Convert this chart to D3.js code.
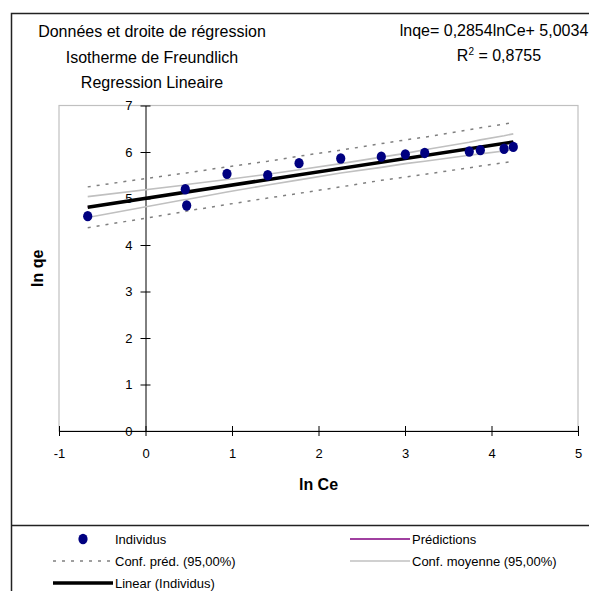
<!DOCTYPE html>
<html>
<head>
<meta charset="utf-8">
<script src="https://cdn.jsdelivr.net/npm/d3@7"></script>
<style>
  body { margin: 0; background: #fff; }
  svg { display: block; font-family: "Liberation Sans", Arial, sans-serif; }
</style>
</head>
<body>
<svg id="graphique"></svg>
<script>
// valeurs
var lnCe = [-0.668, 0.460, 0.476, 0.942, 1.413, 1.775, 2.257, 2.726, 3.004, 3.228, 3.743, 3.871, 4.145, 4.252];
var lnQe = [4.62, 5.20, 4.85, 5.53, 5.50, 5.76, 5.86, 5.90, 5.95, 5.98, 6.01, 6.04, 6.07, 6.11];
var predictions = [4.81, 5.13, 5.14, 5.27, 5.41, 5.51, 5.65, 5.78, 5.86, 5.92, 6.07, 6.11, 6.19, 6.22];
var confMoyHaut = [5.04, 5.29, 5.30, 5.41, 5.52, 5.62, 5.75, 5.89, 5.97, 6.05, 6.21, 6.26, 6.35, 6.39];
var confMoyBas = [4.59, 4.98, 4.98, 5.14, 5.29, 5.40, 5.55, 5.67, 5.75, 5.80, 5.93, 5.96, 6.02, 6.05];
var confPredHaut = [5.25, 5.55, 5.55, 5.68, 5.80, 5.91, 6.04, 6.18, 6.26, 6.32, 6.48, 6.52, 6.60, 6.63];
var confPredBas = [4.37, 4.72, 4.73, 4.87, 5.01, 5.11, 5.25, 5.39, 5.46, 5.52, 5.66, 5.70, 5.77, 5.80];

var pente = 0.2854, ordonnee = 5.0034;

var ticksX = [-1, 0, 1, 2, 3, 4, 5];
var ticksY = [0, 1, 2, 3, 4, 5, 6, 7];

var titres = ['Données et droite de régression', 'Isotherme de Freundlich', 'Regression Lineaire'];
var legende = ['Individus', 'Prédictions', 'Conf. préd. (95,00%)', 'Conf. moyenne (95,00%)', 'Linear (Individus)'];

var largeur = 589, hauteur = 591;
var svg = d3.select('#graphique')
            .attr('width', largeur)
            .attr('height', hauteur);

// cadre exterieur (depasse a droite et en bas)
svg.append('rect')
   .attr('x', 11.5).attr('y', 13.5)
   .attr('width', 600).attr('height', 600)
   .attr('fill', 'none').attr('stroke', '#222').attr('stroke-width', 1.5);

svg.append('line')
   .attr('x1', 11).attr('x2', largeur)
   .attr('y1', 525.5).attr('y2', 525.5)
   .attr('stroke', '#222').attr('stroke-width', 1.5);

var x = d3.scaleLinear().domain([-1, 5]).range([59, 578]);
var y = d3.scaleLinear().domain([0, 7]).range([431, 105.5]);

// zone de tracé
svg.append('rect')
   .attr('x', x(-1)).attr('y', y(7))
   .attr('width', x(5) - x(-1)).attr('height', y(0) - y(7))
   .attr('fill', 'none').attr('stroke', '#c0c0c0').attr('stroke-width', 1.2);

var eixoX = d3.axisBottom(x).tickValues(ticksX).tickSize(5).tickSizeOuter(0)
              .tickPadding(13).tickFormat(d => String(d));
var gX = svg.append('g')
            .attr('transform', 'translate(0,' + y(0) + ')')
            .call(eixoX);
gX.selectAll('.tick line').attr('y1', -5);

var eixoY = d3.axisLeft(y).tickValues(ticksY).tickSize(5).tickSizeOuter(0)
              .tickPadding(8).tickFormat(d => String(d));
var gY = svg.append('g')
            .attr('transform', 'translate(' + x(0) + ',0)')
            .call(eixoY);
gY.selectAll('.tick line').attr('x1', 5);

svg.selectAll('.tick text')
   .attr('font-family', '"Liberation Sans", Arial, sans-serif')
   .attr('font-size', 13).attr('fill', '#000');
svg.selectAll('.domain, .tick line').attr('stroke', '#000');

var ligne = function(valeurs) {
  return d3.line()
           .x((d, i) => x(lnCe[i]))
           .y(d => y(d))(valeurs);
};

[confPredHaut, confPredBas].forEach(function(serie) {
  svg.append('path')
     .attr('d', ligne(serie))
     .attr('fill', 'none').attr('stroke', '#808080')
     .attr('stroke-width', 1.5).attr('stroke-dasharray', '3,6');
});
[confMoyHaut, confMoyBas].forEach(function(serie) {
  svg.append('path')
     .attr('d', ligne(serie))
     .attr('fill', 'none').attr('stroke', '#c0c0c0')
     .attr('stroke-width', 1.6);
});
svg.append('path')
   .attr('d', ligne(predictions))
   .attr('fill', 'none').attr('stroke', '#800080').attr('stroke-width', 1.5);

var bornes = d3.extent(lnCe);
svg.append('line')
   .attr('x1', x(bornes[0])).attr('y1', y(pente * bornes[0] + ordonnee))
   .attr('x2', x(bornes[1])).attr('y2', y(pente * bornes[1] + ordonnee))
   .attr('stroke', '#000').attr('stroke-width', 3.5);

svg.selectAll('.point')
  .data(lnQe)
  .enter()
    .append('ellipse')
    .classed('point', true)
    .attr('cx', (d, i) => x(lnCe[i]))
    .attr('cy', d => y(d))
    .attr('rx', 4.6).attr('ry', 5.2)
    .attr('fill', '#000080');

// titres
svg.selectAll('.titre')
  .data(titres)
  .enter()
    .append('text')
    .classed('titre', true)
    .attr('x', 152)
    .attr('y', (d, i) => 37 + i * 25.5)
    .attr('text-anchor', 'middle')
    .attr('font-size', 16)
    .text(d => d);

// equation et R2
svg.append('text')
   .attr('x', 494).attr('y', 36)
   .attr('text-anchor', 'middle')
   .attr('font-size', 16)
   .text('lnqe= 0,2854lnCe+ 5,0034');
var r2 = svg.append('text')
   .attr('x', 499).attr('y', 61)
   .attr('text-anchor', 'middle')
   .attr('font-size', 16);
r2.append('tspan').text('R');
r2.append('tspan').attr('font-size', 10).attr('dy', -6).text('2');
r2.append('tspan').attr('dy', 6).text(' = 0,8755');

svg.append('text')
   .attr('transform', 'translate(43,' + ((y(0) + y(7)) / 2) + ') rotate(-90)')
   .attr('text-anchor', 'middle')
   .attr('font-size', 16).attr('font-weight', 'bold')
   .text('ln qe');

svg.append('text')
   .attr('x', (x(-1) + x(5)) / 2).attr('y', 490)
   .attr('text-anchor', 'middle')
   .attr('font-size', 16).attr('font-weight', 'bold')
   .text('ln Ce');

// legende
var itens = svg.selectAll('.legende')
  .data(legende)
  .enter()
    .append('g')
    .classed('legende', true)
    .attr('transform', (d, i) => 'translate(' + (i % 2 ? 350 : 53) + ',' + (539 + Math.floor(i / 2) * 22) + ')');

itens.each(function(d, i) {
  var g = d3.select(this);
  if (i === 0) {
    g.append('ellipse').attr('cx', 30).attr('cy', 0).attr('rx', 4.6).attr('ry', 5.2).attr('fill', '#000080');
  } else {
    var styles = [null,
      {c: '#800080', w: 1.5, t: null},
      {c: '#808080', w: 1.5, t: '3,6'},
      {c: '#c0c0c0', w: 1.6, t: null},
      {c: '#000', w: 3.5, t: null}][i];
    g.append('line')
     .attr('x1', 0).attr('x2', 60).attr('y1', 0).attr('y2', 0)
     .attr('stroke', styles.c).attr('stroke-width', styles.w)
     .attr('stroke-dasharray', styles.t);
  }
  g.append('text')
   .attr('x', 62).attr('y', 4.5)
   .attr('font-size', 13)
   .text(d);
});
</script>
</body>
</html>
